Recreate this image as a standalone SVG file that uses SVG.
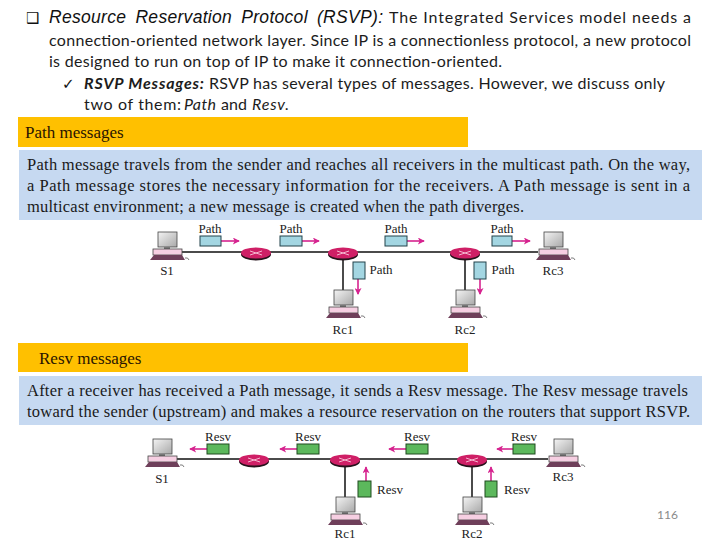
<svg xmlns="http://www.w3.org/2000/svg" width="720" height="540" viewBox="0 0 720 540">
<style>
.a{font-family:"Liberation Sans",Arial,sans-serif;font-size:17.5px;font-style:italic;fill:#111;word-spacing:4px}
.c{font-family:Lato,"Open Sans",sans-serif;font-size:16px;fill:#1c1c1c}
.ci{font-style:italic}
.cb{font-weight:bold;font-style:italic}
.s{font-family:"Liberation Serif","Times New Roman",serif;font-size:16.5px;fill:#1a1a1a}
.h{font-family:"Liberation Serif","Times New Roman",serif;font-size:17px;fill:#2a1500}
.l{font-family:"Liberation Serif","Times New Roman",serif;font-size:13px;fill:#222;text-anchor:middle}
.bp{fill:#a3d6e2;stroke:#22424a;stroke-width:1}
.bg{fill:#5cb85c;stroke:#1f4a1f;stroke-width:1}
.w{fill:none;stroke:#111;stroke-width:1.5}
.ar{fill:none;stroke:#d6238f;stroke-width:1.6;marker-end:url(#m)}
</style>
<defs>
<marker id="m" viewBox="0 0 8 8" refX="7" refY="4" markerWidth="8" markerHeight="7" markerUnits="userSpaceOnUse" orient="auto"><path d="M0 0L8 4L0 8L2 4Z" fill="#d6238f"/></marker>
<linearGradient id="scr" x1="0" y1="0" x2="1" y2="1"><stop offset="0" stop-color="#f4f4f4"/><stop offset="1" stop-color="#a8a8a8"/></linearGradient>
<g id="pc">
<rect x="-9" y="-19" width="19" height="15" fill="url(#scr)" stroke="#444" stroke-width=".8"/>
<rect x="-3" y="-4" width="6" height="2" fill="#777"/>
<rect x="-14" y="-2" width="29" height="6" fill="#f6cfe2" stroke="#444" stroke-width=".8"/>
<path d="M-17 9L-13 4H15L18 9Z" fill="#6f3f5a"/>
<path d="M18 7q3 -1 4 2" fill="none" stroke="#444" stroke-width=".7"/>
</g>
<g id="rt">
<ellipse cx="0" cy="1.5" rx="15" ry="6" fill="#26121b"/>
<ellipse cx="0" cy="0" rx="15" ry="5.5" fill="#cf1f66"/>
<path d="M-6 -2L6 2M-6 2L6 -2" stroke="#f4b6cf" stroke-width="1"/>
</g>
</defs>
<rect width="720" height="540" fill="#fff"/>
<g id="heading-text">
<text x="26" y="23" style="font-family:'DejaVu Sans',sans-serif;font-size:15px;fill:#111">❑</text>
<text class="a" x="49" y="23" textLength="334" lengthAdjust="spacing">Resource Reservation Protocol (RSVP):</text>
<text class="c" x="389" y="23" textLength="302" lengthAdjust="spacing">The Integrated Services model needs a</text>
<text class="c" x="49" y="46" textLength="642" lengthAdjust="spacing">connection-oriented network layer. Since IP is a connectionless protocol, a new protocol</text>
<text class="c" x="49" y="67" textLength="453" lengthAdjust="spacing">is designed to run on top of IP to make it connection-oriented.</text>
<text x="62" y="89" style="font-family:'DejaVu Sans',sans-serif;font-size:15px;fill:#111">✓</text>
<text class="c cb" x="84" y="89" textLength="120" lengthAdjust="spacing">RSVP Messages:</text>
<text class="c" x="209" y="89" textLength="456" lengthAdjust="spacing">RSVP has several types of messages. However, we discuss only</text>
<text class="c" x="84" y="110" textLength="97" lengthAdjust="spacing">two of them:</text>
<text class="c ci" x="184" y="110" textLength="32" lengthAdjust="spacing">Path</text>
<text class="c" x="221" y="110" textLength="26" lengthAdjust="spacing">and</text>
<text class="c ci" x="252" y="110" textLength="37" lengthAdjust="spacing">Resv.</text>
</g>
<g id="path-heading"><rect x="18" y="117" width="450" height="30" fill="#ffc000"/><text class="h" x="25" y="138">Path messages</text></g>
<g id="path-body"><rect x="19" y="150" width="683" height="70" fill="#c6d9f1"/>
<text class="s" x="27" y="170" textLength="663" lengthAdjust="spacing">Path message travels from the sender and reaches all receivers in the multicast path. On the way,</text>
<text class="s" x="27" y="191" textLength="663" lengthAdjust="spacing">a Path message stores the necessary information for the receivers. A Path message is sent in a</text>
<text class="s" x="27" y="212" textLength="497" lengthAdjust="spacing">multicast environment; a new message is created when the path diverges.</text></g>
<g id="resv-heading"><rect x="18" y="343" width="450" height="29" fill="#ffc000"/><text class="h" x="39" y="364">Resv messages</text></g>
<g id="resv-body"><rect x="19" y="376" width="683" height="49" fill="#c6d9f1"/>
<text class="s" x="27" y="396" textLength="661" lengthAdjust="spacing">After a receiver has received a Path message, it sends a Resv message. The Resv message travels</text>
<text class="s" x="27" y="417" textLength="663" lengthAdjust="spacing">toward the sender (upstream) and makes a resource reservation on the routers that support RSVP.</text></g>

<g id="connectors">
<path class="w" d="M182 252H538M343 253V293M465 253V293"/>
<path class="ar" d="M221 241H239"/><path class="ar" d="M302 241H319"/><path class="ar" d="M407 241H424"/><path class="ar" d="M512 241H530"/>
<path class="ar" d="M358 279V294"/><path class="ar" d="M480 279V294"/>
<path class="w" d="M177 459H548M345 460V499M472 460V499"/>
<path class="ar" d="M207 449H190"/><path class="ar" d="M297 449H280"/><path class="ar" d="M406 449H389"/><path class="ar" d="M513 449H497"/>
<path class="ar" d="M366 481V467"/><path class="ar" d="M491 481V467"/>
</g>

<g id="path-S1"><use href="#pc" x="167" y="251"/><text class="l" x="167" y="275">S1</text></g>
<g id="path-R1"><use href="#rt" x="256" y="253"/></g>
<g id="path-R2"><use href="#rt" x="343" y="253"/></g>
<g id="path-R3"><use href="#rt" x="465" y="253"/></g>
<g id="path-Rc1"><use href="#pc" x="343" y="309"/><text class="l" x="343" y="334">Rc1</text></g>
<g id="path-Rc2"><use href="#pc" x="465" y="309"/><text class="l" x="465" y="334">Rc2</text></g>
<g id="path-Rc3"><use href="#pc" x="553" y="251"/><text class="l" x="553" y="275">Rc3</text></g>
<g id="path-msgs">
<rect class="bp" x="200" y="236" width="21" height="10"/><text class="l" x="210" y="233">Path</text>
<rect class="bp" x="280" y="236" width="22" height="10"/><text class="l" x="291" y="233">Path</text>
<rect class="bp" x="385" y="236" width="22" height="10"/><text class="l" x="396" y="233">Path</text>
<rect class="bp" x="492" y="236" width="20" height="10"/><text class="l" x="502" y="233">Path</text>
<rect class="bp" x="353" y="262" width="12" height="17"/><text class="l" x="381" y="274">Path</text>
<rect class="bp" x="474" y="262" width="12" height="17"/><text class="l" x="503" y="274">Path</text>
</g>

<g id="resv-S1"><use href="#pc" x="162" y="458"/><text class="l" x="162" y="483">S1</text></g>
<g id="resv-R1"><use href="#rt" x="254" y="460"/></g>
<g id="resv-R2"><use href="#rt" x="345" y="460"/></g>
<g id="resv-R3"><use href="#rt" x="472" y="460"/></g>
<g id="resv-Rc1"><use href="#pc" x="345" y="516"/><text class="l" x="345" y="538">Rc1</text></g>
<g id="resv-Rc2"><use href="#pc" x="472" y="516"/><text class="l" x="472" y="538">Rc2</text></g>
<g id="resv-Rc3"><use href="#pc" x="563" y="458"/><text class="l" x="563" y="481">Rc3</text></g>
<g id="resv-msgs">
<rect class="bg" x="207" y="444" width="22" height="10"/><text class="l" x="218" y="441">Resv</text>
<rect class="bg" x="297" y="444" width="22" height="10"/><text class="l" x="308" y="441">Resv</text>
<rect class="bg" x="406" y="444" width="22" height="10"/><text class="l" x="417" y="441">Resv</text>
<rect class="bg" x="513" y="444" width="22" height="10"/><text class="l" x="524" y="441">Resv</text>
<rect class="bg" x="358" y="481" width="13" height="16"/><text class="l" x="390" y="494">Resv</text>
<rect class="bg" x="485" y="481" width="12" height="16"/><text class="l" x="517" y="494">Resv</text>
</g>
<text id="page" x="657" y="519" style="font-family:Lato,sans-serif;font-size:12px;fill:#8a8a8a">116</text>
</svg>
